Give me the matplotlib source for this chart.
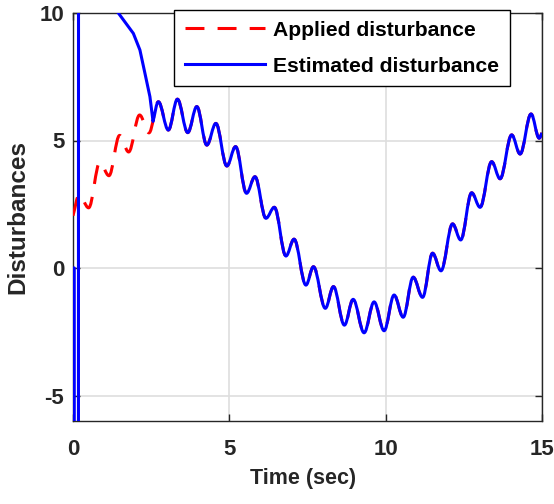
import matplotlib
matplotlib.use("Agg")
import matplotlib.pyplot as plt
from matplotlib.path import Path
from matplotlib.patches import PathPatch
from matplotlib.lines import Line2D

plt.rcParams["font.family"] = ["Liberation Sans", "DejaVu Sans"]
plt.rcParams["font.weight"] = "bold"
plt.rcParams["axes.unicode_minus"] = False

# applied disturbance: start value, alternating peaks / troughs, end value
applied_t = [0.0, 0.20, 0.50, 0.86, 1.15, 1.49, 1.78, 2.13, 2.43, 2.73,
             3.05, 3.34, 3.67, 3.96, 4.28, 4.57, 4.92, 5.20, 5.55, 5.82,
             6.17, 6.44, 6.81, 7.07, 7.45, 7.69, 8.07, 8.33, 8.68, 8.96,
             9.31, 9.63, 9.95, 10.27, 10.56, 10.88, 11.18, 11.50, 11.77, 12.14,
             12.40, 12.75, 13.02, 13.39, 13.66, 14.03, 14.30, 14.65, 14.91, 15.0]
applied_d = [2.05, 2.88, 2.36, 4.15, 3.62, 5.20, 4.55, 6.00, 5.30, 6.52,
             5.41, 6.62, 5.31, 6.33, 4.82, 5.67, 4.00, 4.76, 2.93, 3.58,
             1.95, 2.38, 0.47, 1.13, -0.67, 0.05, -1.58, -0.73, -2.24, -1.23,
             -2.54, -1.33, -2.46, -1.06, -1.93, -0.36, -1.15, 0.58, -0.11, 1.73,
             1.10, 2.95, 2.38, 4.17, 3.50, 5.22, 4.47, 6.04, 5.09, 5.30]

# observer transient before it locks onto the applied signal
est_t = [0.0, 0.04, 0.045, 0.17, 0.18, 1.00, 1.45, 1.93, 2.14, 2.30, 2.46, 2.56]
est_d = [0.0, 0.0, -40.0, -40.0, 40.0, 10.73, 10.0, 9.20, 8.55, 7.64, 6.72, 5.75]
lock_idx = 9  # first applied extremum after convergence

K = 0.364  # bezier handle for a half-cosine between extrema


def add_curve(verts, codes, p0, p1, flat0, flat1):
    dt = p1[0] - p0[0]
    dy = p1[1] - p0[1]
    c1 = (p0[0] + K * dt, p0[1]) if flat0 else (p0[0] + dt / 3, p0[1] + dy / 3)
    c2 = (p1[0] - K * dt, p1[1]) if flat1 else (p1[0] - dt / 3, p1[1] - dy / 3)
    verts += [c1, c2, p1]
    codes += [Path.CURVE4] * 3


def wave(ts, ys, verts, codes, first_flat):
    n = len(ts)
    for i in range(1, n):
        flat0 = first_flat if i == 1 else True
        flat1 = i != n - 1
        add_curve(verts, codes, (ts[i - 1], ys[i - 1]), (ts[i], ys[i]), flat0, flat1)


# applied signal path
v, c = [(applied_t[0], applied_d[0])], [Path.MOVETO]
wave(applied_t, applied_d, v, c, False)
applied_path = Path(v, c)

# estimated signal path: transient polyline, then the tracked wave
v = [(est_t[0], est_d[0])]
c = [Path.MOVETO]
for t, d in zip(est_t[1:], est_d[1:]):
    v.append((t, d))
    c.append(Path.LINETO)
add_curve(v, c, (est_t[-1], est_d[-1]),
          (applied_t[lock_idx], applied_d[lock_idx]), False, True)
wave(applied_t[lock_idx:], applied_d[lock_idx:], v, c, True)
est_path = Path(v, c)

fig = plt.figure(figsize=(5.54, 5.04), dpi=100)
ax = fig.add_axes([73 / 554, 1 - 421 / 504, 469 / 554, 408 / 504])

lw = 2.2
dash = (0, (6.2, 4.3))
ax.add_patch(PathPatch(applied_path, fill=False, edgecolor="red", lw=lw,
                       linestyle=dash, capstyle="butt", joinstyle="round", zorder=3))
ax.add_patch(PathPatch(est_path, fill=False, edgecolor="blue", lw=lw,
                       joinstyle="round", zorder=4))

ax.set_xlim(0, 15)
ax.set_ylim(-6, 10)
ax.set_xticks([0, 5, 10, 15])
ax.set_yticks([-5, 0, 5, 10])
ax.grid(True, color="#dedede", lw=1.2)
ax.set_axisbelow(True)

for s in ax.spines.values():
    s.set_color("#262626")
    s.set_linewidth(1.0)
ax.tick_params(direction="in", top=True, right=True, length=5, width=1,
               colors="#262626", labelsize=16)
ax.tick_params(axis="x", pad=13)
ax.tick_params(axis="y", pad=6.3)

ax.set_xlabel("Time (sec)", fontsize=15.5, fontweight="bold", color="#262626")
ax.xaxis.set_label_coords(0.49, -0.114)
ax.set_ylabel("Disturbances", fontsize=17.5, fontweight="bold", color="#262626")
ax.yaxis.set_label_coords(-0.092, 0.5)

handles = [Line2D([], [], color="red", lw=lw, linestyle=dash, label="Applied disturbance"),
           Line2D([], [], color="blue", lw=lw, label="Estimated disturbance")]
leg = ax.legend(handles=handles, loc="upper left",
                bbox_to_anchor=(174 / 554, 1 - 10 / 504), bbox_transform=fig.transFigure,
                prop={"size": 15.2, "weight": "bold"}, fancybox=False, framealpha=1,
                edgecolor="black", handlelength=3.8, handletextpad=0.4,
                borderpad=0.5, labelspacing=0.82, borderaxespad=0)
leg.get_frame().set_linewidth(1.0)
leg.set_zorder(10)

fig.savefig("out.png", dpi=100)
